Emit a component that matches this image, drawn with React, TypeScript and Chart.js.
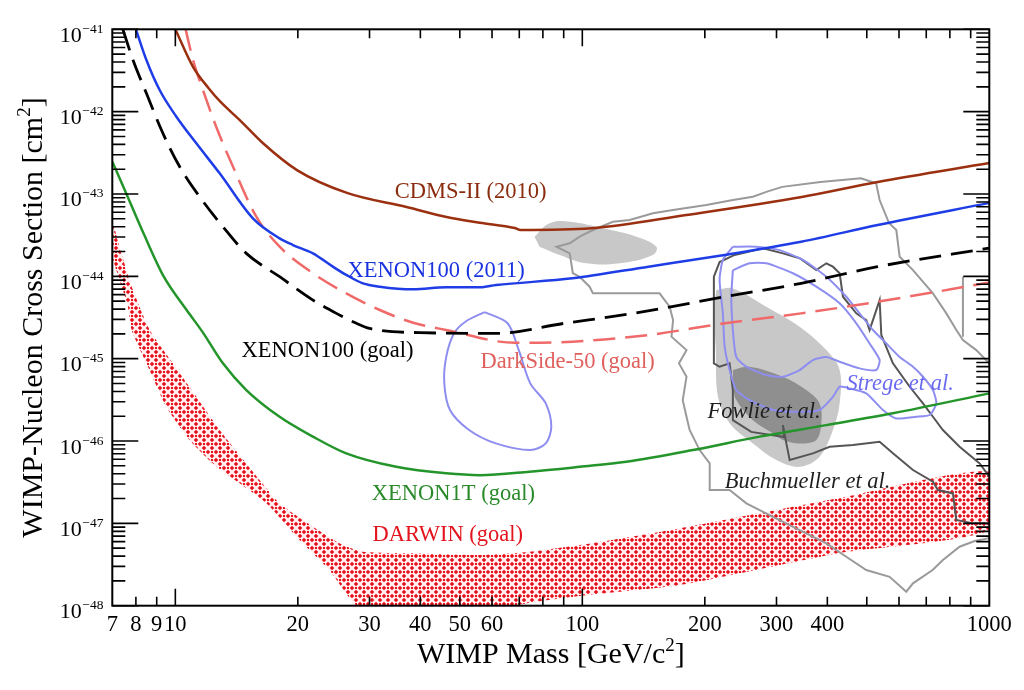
import React, { useEffect, useRef } from "react";
import { Chart, registerables } from "chart.js";

Chart.register(...registerables);

const FONT = "'Liberation Serif', 'Times New Roman', serif";

// ---------- axis ticks ----------
const xTickLabels = [7, 8, 9, 10, 20, 30, 40, 50, 60, 100, 200, 300, 400, 1000];
const xMinorTicks = [8, 9, 20, 30, 40, 50, 60, 70, 80, 90, 200, 300, 400, 500, 600, 700, 800, 900];
const xMajorTicks = [10, 100];
const yDecades = [-48, -47, -46, -45, -44, -43, -42, -41];

// ---------- exclusion limits: WIMP mass [GeV/c^2], cross section [cm^2] ----------
const cdmsMass = [10, 11.05, 12.1, 12.9, 14.4, 16.4, 19.9, 26.4, 37, 46.4, 56, 68.2, 70.5, 105, 180, 346, 532, 1000];
const cdmsSigma = [1.0e-41, 3.5e-42, 1.9e-42, 1.32e-42, 7.9e-43, 4.16e-43, 1.95e-43, 1.03e-43, 6.95e-44, 5.25e-44, 4.48e-44, 3.86e-44, 3.65e-44, 3.83e-44, 5.55e-44, 9.18e-44, 1.4e-43, 2.38e-43];

const x100Mass = [8.0, 8.49, 9.15, 10.06, 11.26, 12.85, 15.51, 18.04, 19.45, 21.78, 24.38, 26.3, 28.9, 31.8, 38.4, 46.3, 56, 61.4, 94.5, 145.5, 223.7, 345, 531.6, 1000];
const x100Sigma = [1e-41, 4.24e-42, 1.83e-42, 8.67e-43, 4.12e-43, 1.78e-43, 5.06e-44, 2.89e-44, 2.4e-44, 1.9e-44, 1.31e-44, 1.04e-44, 8.22e-45, 7.48e-45, 6.95e-45, 7.35e-45, 7.35e-45, 7.83e-45, 9.46e-45, 1.31e-44, 1.82e-44, 2.63e-44, 4.2e-44, 7.8e-44];

const x100GoalMass = [7.43, 7.87, 8.49, 9.32, 10.25, 11.47, 13.09, 14.94, 18.04, 21.78, 24.87, 27.85, 30.0, 39.8, 61.4, 90.5, 133.4, 224, 345, 531.6, 1000];
const x100GoalSigma = [1e-41, 4.24e-42, 1.67e-42, 5.46e-43, 2.14e-43, 9.27e-44, 4.0e-44, 1.9e-44, 9.89e-45, 5.15e-45, 3.55e-45, 2.69e-45, 2.33e-45, 2.07e-45, 2.03e-45, 2.69e-45, 3.55e-45, 5.65e-45, 8.22e-45, 1.31e-44, 2.2e-44];

const ds50Mass = [10.6, 11.05, 11.69, 12.6, 13.86, 15.81, 18.04, 21.78, 26.3, 31.8, 38.4, 46.3, 68.3, 94.5, 145.5, 224, 345, 531.6, 1000];
const ds50Sigma = [1e-41, 4.24e-42, 1.83e-42, 6.56e-43, 2.14e-43, 5.3e-44, 2.29e-44, 1.09e-44, 6.21e-45, 3.9e-45, 2.73e-45, 2.23e-45, 1.56e-45, 1.61e-45, 1.94e-45, 2.69e-45, 3.55e-45, 4.91e-45, 8.4e-45];

const x1tMass = [7.0, 7.51, 8.41, 9.36, 10.66, 11.67, 13.09, 14.94, 18.04, 21.78, 26.3, 34.9, 46.3, 56, 74.2, 98.5, 128.3, 187, 272.7, 397.7, 579.4, 1000];
const x1tSigma = [2.47e-43, 1.12e-43, 3.08e-44, 1.0e-44, 3.9e-45, 2.1e-45, 8.77e-46, 4.16e-46, 1.97e-46, 1.13e-46, 7.08e-47, 4.86e-47, 4.05e-47, 3.85e-47, 4.24e-47, 4.86e-47, 5.6e-47, 7.76e-47, 1.13e-46, 1.56e-46, 2.17e-46, 3.79e-46];

const darwinUpperMass = [7.0, 7.33, 7.87, 8.65, 9.86, 11.26, 12.85, 14.94, 18.04, 21.78, 25.8, 28.9, 38.4, 56, 74.2, 98.5, 173.4, 428.5, 1000];
const darwinUpperSigma = [4.83e-44, 2.08e-44, 6.81e-45, 2.23e-45, 8.77e-46, 3.44e-46, 1.36e-46, 5.35e-47, 1.75e-47, 9.1e-48, 5.45e-48, 4.52e-48, 4.32e-48, 4.12e-48, 4.52e-48, 5.45e-48, 8.69e-48, 2.03e-47, 4.24e-47];
const darwinLowerMass = [7.0, 7.16, 7.63, 7.81, 8.49, 9.5, 10.84, 12.37, 14.39, 16.74, 20.2, 23.9, 27.9, 35.6, 47.2, 59.2, 68.2, 98.5, 173.4, 428.5, 1000];
const darwinLowerSigma = [1.71e-44, 1.19e-44, 4.48e-45, 2.23e-45, 8.77e-46, 2.61e-46, 1.03e-46, 5.35e-47, 3.06e-47, 1.75e-47, 6.27e-48, 2.71e-48, 1.0e-48, 6.7e-49, 5.82e-49, 7.08e-49, 1.0e-48, 1.31e-48, 1.78e-48, 4.37e-48, 8.3e-48];

// ---------- theory regions ----------
const fowlieUpperMass = [76.3, 83.1, 93.1, 112.4, 135.7, 152, 149, 123.5, 102.3, 88, 78.5];
const fowlieUpperSigma = [3.03e-44, 4.41e-44, 4.6e-44, 3.83e-44, 3.03e-44, 2.29e-44, 1.82e-44, 1.44e-44, 1.44e-44, 1.82e-44, 2.29e-44];
const fowlieOuterMass = [213.4, 234.4, 283.2, 342, 397.7, 428.8, 428.8, 412.8, 382.8, 342, 299.8, 262.6, 230.1, 215.4, 212.8, 210.4];
const fowlieOuterSigma = [6.81e-45, 7.14e-45, 4.28e-45, 2.44e-45, 1.27e-45, 7.28e-46, 2.86e-46, 1.36e-46, 6.44e-47, 4.86e-47, 5.87e-47, 9.35e-47, 1.64e-46, 3.44e-46, 1.27e-45, 3.9e-45];
const fowlieInnerMass = [234.4, 257.6, 311.1, 355.1, 382.8, 386.5, 375.8, 342, 311.1, 294, 262.6, 238.9, 234.4];
const fowlieInnerSigma = [7.28e-46, 7.98e-46, 6.03e-46, 4.16e-46, 2.86e-46, 1.64e-46, 1.03e-46, 9.35e-47, 1.03e-46, 1.24e-46, 1.79e-46, 3.14e-46, 5.01e-46];

const stregeLowMass = [57.5, 65.5, 69.8, 74.5, 81.3, 83.9, 81.3, 74.5, 61.3, 52.7, 47.3, 45.8, 46.3, 48.4, 51.6, 57.5];
const stregeLowSigma = [3.68e-45, 2.69e-45, 1.27e-45, 5.01e-46, 2.86e-46, 1.49e-46, 9.35e-47, 7.76e-47, 9.35e-47, 1.36e-46, 2.38e-46, 5.01e-46, 1.05e-45, 2.03e-45, 2.81e-45, 3.68e-45];
const stregeOuterMass = [234.4, 267.6, 305.3, 348.3, 397.7, 445.3, 480, 517.6, 558.5, 602.1, 649.3, 687.1, 727, 741, 713.6, 661.7, 590.9, 547.9, 498.5, 453.9, 428.8, 412.8, 382.8, 342, 294, 257.6, 238.9, 230.1, 223.7, 221.5, 217.4, 221.5, 234.4];
const stregeOuterSigma = [2.29e-44, 2.29e-44, 2.08e-44, 1.58e-44, 9.89e-45, 5.65e-45, 3.55e-45, 2.23e-45, 1.53e-45, 1.05e-45, 7.98e-46, 6.03e-46, 4.16e-46, 2.86e-46, 2.07e-46, 1.97e-46, 1.88e-46, 2.38e-46, 3.79e-46, 4.36e-46, 4.56e-46, 3.44e-46, 2.38e-46, 2.26e-46, 2.38e-46, 3.14e-46, 4.16e-46, 7.28e-46, 1.4e-45, 3.55e-45, 9.02e-45, 1.58e-44, 2.29e-44];
const stregeInnerMass = [234.4, 257.6, 283.2, 329.1, 375.8, 428.8, 471.2, 508, 537.7, 527.8, 480.1, 428.8, 397.7, 368.6, 342, 311.1, 283.2, 252.9, 238.9, 234.4, 232.3, 234.4];
const stregeInnerSigma = [1.19e-44, 1.44e-44, 1.44e-44, 1.09e-44, 7.48e-45, 4.7e-45, 2.69e-45, 1.53e-45, 9.62e-46, 7.28e-46, 7.62e-46, 9.18e-46, 1.05e-45, 9.62e-46, 7.28e-46, 6.03e-46, 6.32e-46, 7.98e-46, 1.05e-45, 2.23e-45, 5.65e-45, 1.19e-44];

const buchDarkMass = [1000, 910.8, 829.7, 814, 747.7, 727, 649.3, 579.7, 537.7, 462.3, 405.2, 368.6, 323.2, 317.2, 311.1, 313.3, 260, 234.4, 234.4, 230.1, 217.4, 210.5, 210.5, 217.4, 236.7, 277.9, 311.1, 342, 375.8, 397.7, 412.8, 428.8, 437, 471.2, 498.5, 508, 537.7, 542.8, 579.7, 637.4, 687.1, 727, 769.1, 845.3, 947, 1000];
const buchDarkSigma = [1.0e-47, 1.0e-47, 1.1e-47, 2.31e-47, 2.54e-47, 3.2e-47, 4.44e-47, 7.08e-47, 9.79e-47, 8.93e-47, 8.51e-47, 7.08e-47, 5.87e-47, 9.35e-47, 1.56e-46, 1.12e-46, 1.29e-46, 1.79e-46, 4.16e-46, 8.77e-46, 7.98e-46, 8.77e-46, 9.89e-45, 1.49e-44, 1.82e-44, 2.19e-44, 1.9e-44, 1.66e-44, 1.19e-44, 1.44e-44, 1.31e-44, 1.09e-44, 5.65e-45, 3.55e-45, 2.94e-45, 2.23e-45, 5.15e-45, 1.94e-45, 8.77e-46, 4.56e-46, 2.86e-46, 1.97e-46, 1.36e-46, 8.51e-47, 5.35e-47, 3.68e-47];
const buchLightMass = [1000, 928.9, 861.4, 829.9, 784.2, 727, 649.3, 602.1, 590.9, 567.3, 537.7, 527.2, 483.7, 384.6, 309.9, 283.2, 262.6, 234.4, 201.7, 167, 149.1, 130.7, 118.9, 106.2, 98.5, 93.1, 86.4, 93.1, 94.8, 98.5, 104.2, 106.2, 123.5, 154.8, 163.9, 167.1, 165.6, 180.3, 172.8, 180.3, 176.5, 180.3, 183.5, 194.2, 205.6, 205.6, 230.1, 253, 294.1, 342, 397.7, 445.3, 498.5, 568.9, 625.2, 649.3, 725.5, 769.1, 845.3, 920.4, 1000];
const buchLightSigma = [8.77e-46, 1.27e-45, 1.68e-45, 2.23e-45, 3.55e-45, 6.21e-45, 1.19e-44, 1.73e-44, 3.65e-44, 4.41e-44, 8.45e-44, 1.35e-43, 1.55e-43, 1.4e-43, 1.22e-43, 1.06e-43, 9.27e-44, 8.45e-44, 7.35e-44, 6.38e-44, 5.82e-44, 4.83e-44, 4.6e-44, 3.65e-44, 3.03e-44, 2.52e-44, 2.29e-44, 1.9e-44, 1.09e-44, 9.89e-45, 7.48e-45, 6.21e-45, 6.21e-45, 6.21e-45, 4.28e-45, 2.94e-45, 1.85e-45, 1.27e-45, 8.77e-46, 6.03e-46, 3.14e-46, 1.97e-46, 1.36e-46, 7.76e-47, 5.35e-47, 2.54e-47, 2.54e-47, 1.75e-47, 1.2e-47, 8.28e-48, 5.71e-48, 3.93e-48, 2.71e-48, 2.24e-48, 1.48e-48, 1.87e-48, 2.71e-48, 3.58e-48, 5.2e-48, 6.1e-48, 6.62e-48];
const buchFragMass = [861.4, 861.4];
const buchFragSigma = [9.89e-45, 1.85e-45];

// ---------- in-plot labels ----------
const labelText = ["CDMS-II (2010)", "XENON100 (2011)", "XENON100 (goal)", "DarkSide-50 (goal)", "XENON1T (goal)", "DARWIN (goal)", "Fowlie et al.", "Strege et al.", "Buchmueller et al."];
const labelMass = [34.6, 26.5, 14.55, 56.2, 30.4, 30.5, 203, 446, 224];
const labelSigma = [8.9e-44, 9.8e-45, 1.05e-45, 7.7e-46, 1.92e-47, 6.14e-48, 1.9e-46, 4.16e-46, 2.69e-47];
const labelColor = ["#8a2c0e", "#1a33e0", "#000000", "#e0605e", "#2a8a2a", "#e3141e", "#1e1e1e", "#6a6af0", "#1e1e1e"];
const labelItalic = [false, false, false, false, false, false, true, true, true];

const zip = (m: number[], s: number[]) => m.map((x, i) => ({ x, y: s[i] }));

const axesPlugin = {
  id: "wimpAxes",
  afterDatasetsDraw(chart: any) {
    const { ctx, chartArea: a } = chart;
    const xs = chart.scales.x;
    const ys = chart.scales.y;
    ctx.save();
    // in-plot labels
    ctx.textAlign = "left";
    ctx.textBaseline = "alphabetic";
    labelText.forEach((t, i) => {
      ctx.font = `${labelItalic[i] ? "italic " : ""}22.5px ${FONT}`;
      ctx.fillStyle = labelColor[i];
      ctx.fillText(t, xs.getPixelForValue(labelMass[i]), ys.getPixelForValue(labelSigma[i]));
    });

    // frame and ticks
    ctx.strokeStyle = "#000";
    ctx.lineWidth = 2;
    ctx.strokeRect(a.left, a.top, a.right - a.left, a.bottom - a.top);
    ctx.lineWidth = 1.6;
    ctx.beginPath();
    for (const v of xMinorTicks) {
      const px = xs.getPixelForValue(v);
      ctx.moveTo(px, a.bottom); ctx.lineTo(px, a.bottom - 9);
      ctx.moveTo(px, a.top); ctx.lineTo(px, a.top + 9);
    }
    for (const v of xMajorTicks) {
      const px = xs.getPixelForValue(v);
      ctx.moveTo(px, a.bottom); ctx.lineTo(px, a.bottom - 17);
      ctx.moveTo(px, a.top); ctx.lineTo(px, a.top + 17);
    }
    for (const d of yDecades) {
      const py = ys.getPixelForValue(Math.pow(10, d));
      ctx.moveTo(a.left, py); ctx.lineTo(a.left + 26, py);
      ctx.moveTo(a.right, py); ctx.lineTo(a.right - 26, py);
      if (d < -41) {
        for (let k = 2; k <= 9; k++) {
          const pm = ys.getPixelForValue(k * Math.pow(10, d));
          ctx.moveTo(a.left, pm); ctx.lineTo(a.left + 13, pm);
          ctx.moveTo(a.right, pm); ctx.lineTo(a.right - 13, pm);
        }
      }
    }
    ctx.stroke();

    // tick labels
    ctx.fillStyle = "#000";
    ctx.font = `22.5px ${FONT}`;
    ctx.textAlign = "center";
    for (const v of xTickLabels) {
      ctx.fillText(String(v), xs.getPixelForValue(v), a.bottom + 25);
    }
    for (const d of yDecades) {
      const py = ys.getPixelForValue(Math.pow(10, d));
      ctx.font = `22px ${FONT}`;
      ctx.textAlign = "right";
      ctx.fillText("10", a.left - 30.5, py + 12.5);
      ctx.font = `13.5px ${FONT}`;
      ctx.textAlign = "left";
      ctx.fillText("\u2212" + String(-d), a.left - 30, py + 3.5);
    }

    // x title
    const big = `30px ${FONT}`;
    const sup = `19px ${FONT}`;
    const cx = (a.left + a.right) / 2;
    ctx.font = big;
    const p1 = "WIMP Mass [GeV/c";
    const w1 = ctx.measureText(p1).width;
    const w3 = ctx.measureText("]").width;
    ctx.font = sup;
    const w2 = ctx.measureText("2").width;
    const sx = cx - (w1 + w2 + w3) / 2;
    const by = a.bottom + 57.5;
    ctx.textAlign = "left";
    ctx.font = big;
    ctx.fillText(p1, sx, by);
    ctx.font = sup;
    ctx.fillText("2", sx + w1, by - 12);
    ctx.font = big;
    ctx.fillText("]", sx + w1 + w2, by);

    // y title (rotated)
    ctx.save();
    ctx.translate(42, (a.top + a.bottom) / 2);
    ctx.rotate(-Math.PI / 2);
    ctx.font = big;
    const q1 = "WIMP-Nucleon Cross Section [cm";
    const v1 = ctx.measureText(q1).width;
    const v3 = ctx.measureText("]").width;
    ctx.font = sup;
    const v2 = ctx.measureText("2").width;
    const sy = -(v1 + v2 + v3) / 2;
    ctx.font = big;
    ctx.fillText(q1, sy, 0);
    ctx.font = sup;
    ctx.fillText("2", sy + v1, -12);
    ctx.font = big;
    ctx.fillText("]", sy + v1 + v2, 0);
    ctx.restore();

    ctx.restore();
  },
};

export default function App() {
  const ref = useRef<HTMLCanvasElement>(null);
  useEffect(() => {
    document.body.style.margin = "0";
    const canvas = ref.current!;
    const tile = document.createElement("canvas");
    tile.width = 8;
    tile.height = 8;
    const t = tile.getContext("2d")!;
    t.fillStyle = "#e8121c";
    t.fillRect(0, 0, 8, 8);
    t.strokeStyle = "#fff2f2";
    t.lineWidth = 2.4;
    t.beginPath();
    t.moveTo(0, 0); t.lineTo(8, 8);
    t.moveTo(8, 0); t.lineTo(0, 8);
    t.stroke();
    t.fillStyle = "#e8121c";
    t.fillRect(3, 3, 2, 2);
    const hatch = canvas.getContext("2d")!.createPattern(tile, "repeat");

    const darwinPoly = zip(darwinUpperMass, darwinUpperSigma).concat(zip(darwinLowerMass, darwinLowerSigma).reverse());

    const clear = "rgba(0,0,0,0)";
    const region = (data: any[], color: any, order: number, tension: number) => ({
      data, fill: "shape", backgroundColor: color, borderColor: clear, borderWidth: 0, order, tension,
    });
    const contour = (data: any[], color: string, width: number, order: number, tension = 0) => ({
      data, fill: false, borderColor: color, borderWidth: width, order, tension,
    });
    const limit = (data: any[], color: string, width: number, order: number, dash: number[] = []) => ({
      data, fill: false, borderColor: color, borderWidth: width, order,
      cubicInterpolationMode: "monotone", borderDash: dash,
    });

    const chart = new Chart(canvas, {
      type: "line",
      data: {
        datasets: [
          region(zip(fowlieUpperMass, fowlieUpperSigma), "#c8c8c8", 20, 0.4),
          region(zip(fowlieOuterMass, fowlieOuterSigma), "#c8c8c8", 20, 0.35),
          region(zip(fowlieInnerMass, fowlieInnerSigma), "#8f8f8f", 19, 0.35),
          region(darwinPoly, hatch, 18, 0.2),
          contour(zip(buchLightMass, buchLightSigma), "#9a9a9a", 2, 17),
          contour(zip(buchFragMass, buchFragSigma), "#9a9a9a", 2, 17),
          contour(zip(buchDarkMass, buchDarkSigma), "#555555", 2, 16),
          contour(zip(stregeLowMass, stregeLowSigma), "#8e8ef0", 2, 15, 0.3),
          contour(zip(stregeOuterMass, stregeOuterSigma), "#8e8ef0", 2, 15, 0.2),
          contour(zip(stregeInnerMass, stregeInnerSigma), "#8e8ef0", 2, 15, 0.2),
          limit(zip(x1tMass, x1tSigma), "#23952a", 2.5, 5),
          limit(zip(ds50Mass, ds50Sigma), "#f06a6a", 2.5, 4, [22, 10]),
          limit(zip(x100GoalMass, x100GoalSigma), "#000000", 2.8, 3, [22, 10]),
          limit(zip(x100Mass, x100Sigma), "#1f3de6", 2.5, 2),
          limit(zip(cdmsMass, cdmsSigma), "#9b3010", 2.5, 1),
        ] as any,
      },
      options: {
        responsive: false,
        animation: false,
        devicePixelRatio: 1,
        layout: { padding: { left: 112.3, right: 34.7, top: 29.3, bottom: 84.3 } },
        plugins: { legend: { display: false }, tooltip: { enabled: false } },
        elements: { point: { radius: 0, hitRadius: 0 }, line: { tension: 0 } },
        scales: {
          x: { type: "logarithmic", min: 7, max: 1000, display: false },
          y: { type: "logarithmic", min: 1e-48, max: 1e-41, display: false },
        },
      } as any,
      plugins: [axesPlugin],
    });
    return () => chart.destroy();
  }, []);
  return (
    <div style={{ width: 1024, height: 690, background: "#fff" }}>
      <canvas ref={ref} width={1024} height={690} style={{ display: "block" }} />
    </div>
  );
}
